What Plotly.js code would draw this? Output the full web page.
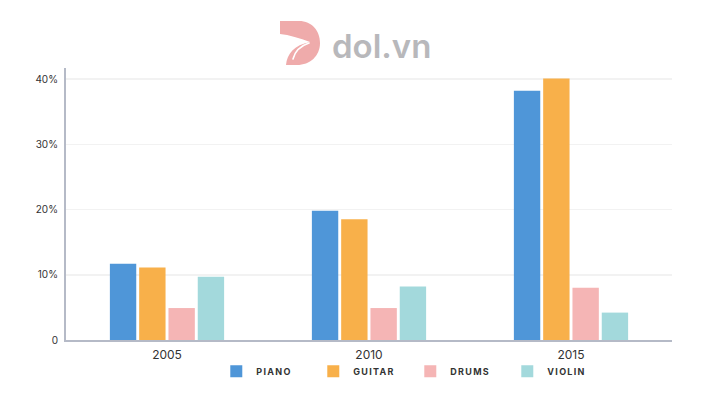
<!DOCTYPE html>
<html>
<head>
<meta charset="utf-8">
<script src="https://cdn.plot.ly/plotly-3.0.1.min.js"></script>
<style>
  html, body { margin: 0; padding: 0; background: #fff; }
  #chart { width: 712px; height: 401px; }
  .legendtext { letter-spacing: 1.3px; }
</style>
</head>
<body>
<div id="chart"></div>
<script>
// values (percent)
var years = ['2005', '2010', '2015'];
var piano = [11.7, 19.8, 38.2];
var guitar = [11.1, 18.5, 40.1];
var drums = [4.9, 4.9, 8.0];
var violin = [9.7, 8.2, 4.2];

var seriesNames = ['PIANO', 'GUITAR', 'DRUMS', 'VIOLIN'];
var seriesColors = ['#4f96d8', '#f8b04a', '#f5b5b5', '#a3d9dc'];

var yTickVals = [0, 10, 20, 30, 40];
var yTickText = ['0', '10%', '20%', '30%', '40%'];

var traces = [piano, guitar, drums, violin].map(function(vals, i) {
  return {
    x: years,
    y: vals,
    type: 'bar',
    name: seriesNames[i],
    marker: { color: seriesColors[i] },
    hoverinfo: 'none'
  };
});

// dol.vn mark, drawn as a small svg
var logoSvg =
  '<svg xmlns="http://www.w3.org/2000/svg" width="40" height="44" viewBox="0 0 40 44">' +
  '<path d="M0,0 H19 C32,0 40,10 40,22 C40,35 30,44 17,44 H6 C7,33 14,24 30,21 C20,17 9,14 0,13 Z" fill="#efabab"/>' +
  '<path d="M13,38 C15,30 20,25 29,22" stroke="#fff" stroke-width="1.6" fill="none" stroke-linecap="round"/>' +
  '</svg>';

var layout = {
  width: 712,
  height: 401,
  margin: { l: 66, r: 40, t: 68, b: 61 },
  paper_bgcolor: '#fff',
  plot_bgcolor: '#fff',
  font: { family: 'Inter, "Open Sans", sans-serif', color: '#333' },
  barmode: 'group',
  bargap: 0.42,
  bargroupgap: 0.1,
  showlegend: true,
  legend: {
    orientation: 'h',
    x: 0.248,
    xanchor: 'left',
    y: -0.062,
    yanchor: 'top',
    bgcolor: 'rgba(0,0,0,0)',
    font: { size: 9, weight: 700, color: '#333' },
    itemwidth: 30,
    entrywidth: 52,
    entrywidthmode: 'pixels',
    traceorder: 'normal'
  },
  xaxis: {
    type: 'category',
    showline: true,
    linecolor: '#b5bac7',
    linewidth: 2,
    showgrid: false,
    ticks: '',
    ticklabelstandoff: 3,
    tickfont: { size: 12, color: '#333' },
    fixedrange: true
  },
  yaxis: {
    range: [0, 41.7],
    showline: true,
    linecolor: '#b5bac7',
    linewidth: 2,
    showgrid: true,
    gridcolor: '#f2f2f2',
    gridwidth: 1.5,
    zeroline: false,
    tickvals: yTickVals,
    ticktext: yTickText,
    ticks: '',
    ticklabelstandoff: 4,
    tickfont: { size: 10, color: '#333' },
    fixedrange: true
  },
  images: [{
    source: 'data:image/svg+xml;charset=utf-8,' + encodeURIComponent(logoSvg),
    xref: 'paper', yref: 'paper',
    x: (280 - 66) / 606, y: 1 + (68 - 21) / 272,
    sizex: 40 / 606, sizey: 44 / 272,
    xanchor: 'left', yanchor: 'top',
    sizing: 'stretch',
    layer: 'above'
  }],
  annotations: [{
    text: 'dol.vn',
    xref: 'paper', yref: 'paper',
    x: (381 - 66) / 606, y: 1 + (68 - 46) / 272,
    xanchor: 'center', yanchor: 'middle',
    showarrow: false,
    font: { size: 33, weight: 600, color: '#b8b8bb', family: 'Inter, sans-serif' }
  }]
};

Plotly.newPlot('chart', traces, layout, { displayModeBar: false, staticPlot: true });
</script>
</body>
</html>
